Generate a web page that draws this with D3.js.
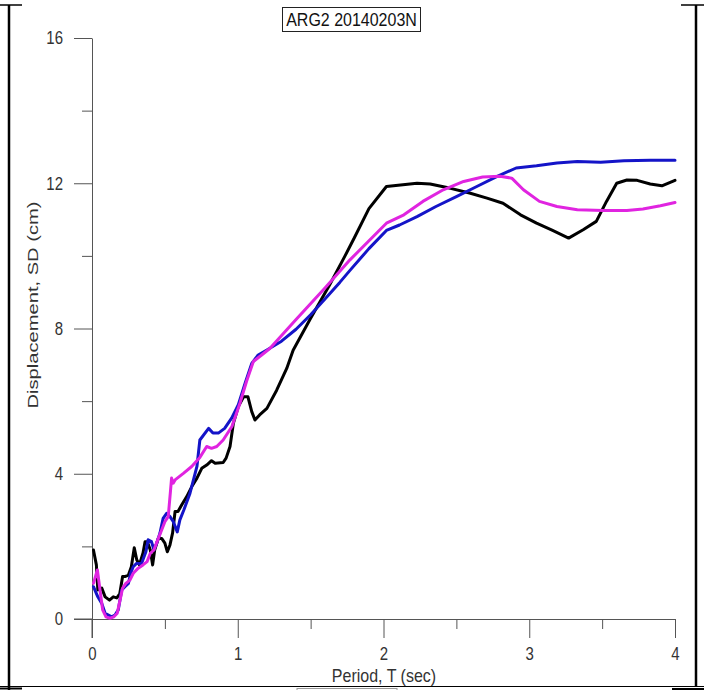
<!DOCTYPE html>
<html>
<head>
<meta charset="utf-8">
<script src="https://cdn.jsdelivr.net/npm/d3@7"></script>
<style>
  html, body { margin: 0; padding: 0; background: #fff; }
  svg { display: block; }
  .tall { transform-box: fill-box; transform-origin: center; transform: scaleY(1.2); }
</style>
</head>
<body>
<svg id="chart" width="704" height="690"></svg>
<script>
// ---- data ----
const chartTitle = "ARG2 20140203N";
const xLabel = "Period, T (sec)";
const yLabel = "Displacement, SD (cm)";
const xMajorTicks = [0, 1, 2, 3, 4];
const xMinorTicks = [0.5, 1.5, 2.5, 3.5];
const yMajorTicks = [0, 4, 8, 12, 16];
const yMinorTicks = [2, 6, 10, 14];

const blackSeries = [
  [0.01,1.9],[0.03,1.49],[0.04,0.8],[0.067,0.85],[0.09,0.61],[0.12,0.52],[0.146,0.61],[0.17,0.58],
  [0.19,0.69],[0.21,1.17],[0.226,1.17],[0.25,1.21],[0.27,1.44],[0.29,1.96],[0.307,1.63],[0.325,1.49],
  [0.35,1.82],[0.364,2.13],[0.38,2.13],[0.4,1.9],[0.416,1.49],[0.43,1.9],[0.455,2.22],[0.478,2.22],
  [0.5,2.09],[0.517,1.85],[0.535,2.04],[0.553,2.37],[0.57,2.96],[0.59,2.96],[0.615,3.14],[0.65,3.37],
  [0.684,3.64],[0.72,3.88],[0.753,4.15],[0.787,4.24],[0.82,4.36],[0.845,4.29],[0.9,4.31],[0.92,4.43],
  [0.947,4.75],[0.97,5.39],[1.004,5.85],[1.04,6.12],[1.07,6.12],[1.096,5.71],[1.118,5.48],[1.15,5.62],
  [1.2,5.8],[1.267,6.3],[1.336,6.9],[1.38,7.4],[1.5,8.28],[1.63,9.2],[1.736,10.0],[1.8,10.5],
  [1.9,11.3],[2.02,11.91],[2.23,12.0],[2.32,11.98],[2.46,11.86],[2.59,11.73],[2.71,11.59],[2.82,11.45],
  [2.94,11.13],[3.05,10.9],[3.16,10.7],[3.27,10.49],[3.37,10.72],[3.46,10.95],[3.53,11.5],[3.6,12.0],
  [3.67,12.09],[3.74,12.08],[3.83,11.98],[3.91,11.93],[4.0,12.08]
];

const blueSeries = [
  [0.01,0.89],[0.04,0.61],[0.067,0.43],[0.09,0.16],[0.112,0.11],[0.135,0.06],[0.158,0.11],[0.18,0.25],
  [0.204,0.8],[0.226,0.89],[0.25,0.98],[0.265,1.26],[0.283,1.44],[0.306,1.53],[0.34,1.53],[0.37,1.85],
  [0.385,2.18],[0.408,2.13],[0.425,1.9],[0.443,2.08],[0.466,2.36],[0.488,2.77],[0.512,2.91],[0.535,2.82],
  [0.558,2.68],[0.585,2.4],[0.603,2.73],[0.63,3.0],[0.672,3.46],[0.72,4.2],[0.74,4.93],[0.8,5.25],
  [0.83,5.12],[0.867,5.12],[0.91,5.25],[0.958,5.53],[1.004,5.9],[1.05,6.49],[1.096,7.04],[1.14,7.27],
  [1.2,7.41],[1.3,7.65],[1.4,7.98],[1.5,8.38],[1.6,8.82],[1.7,9.27],[1.77,9.6],[1.9,10.2],
  [2.02,10.7],[2.11,10.85],[2.23,11.08],[2.36,11.36],[2.5,11.63],[2.64,11.91],[2.78,12.19],[2.91,12.42],
  [3.05,12.48],[3.19,12.56],[3.33,12.6],[3.49,12.58],[3.65,12.62],[3.83,12.63],[4.0,12.63]
];

const magentaSeries = [
  [0.01,0.98],[0.037,1.35],[0.055,0.8],[0.073,0.25],[0.096,0.06],[0.123,0.02],[0.15,0.06],[0.173,0.16],
  [0.19,0.48],[0.21,0.85],[0.232,0.98],[0.26,1.07],[0.283,1.26],[0.317,1.4],[0.35,1.49],[0.378,1.58],
  [0.4,1.81],[0.425,1.9],[0.455,2.22],[0.478,2.45],[0.5,2.68],[0.523,2.82],[0.539,3.55],[0.546,3.88],
  [0.557,3.74],[0.57,3.83],[0.627,4.01],[0.684,4.2],[0.74,4.45],[0.787,4.75],[0.82,4.7],[0.856,4.75],
  [0.9,4.93],[0.96,5.3],[1.015,5.94],[1.06,6.54],[1.107,7.09],[1.164,7.27],[1.22,7.45],[1.4,8.25],
  [1.6,9.12],[1.77,9.89],[2.02,10.9],[2.14,11.13],[2.27,11.5],[2.41,11.82],[2.55,12.05],[2.68,12.17],
  [2.8,12.19],[2.88,12.14],[2.96,11.82],[3.07,11.5],[3.19,11.36],[3.33,11.27],[3.51,11.25],[3.67,11.25],
  [3.78,11.29],[3.9,11.38],[4.0,11.47]
];

const seriesList = [
  { name: "black", data: blackSeries, color: "#000000" },
  { name: "blue", data: blueSeries, color: "#1414c8" },
  { name: "magenta", data: magentaSeries, color: "#e024e0" }
];

// ---- drawing ----
const svg = d3.select("#chart");
const font = "'Liberation Sans', Arial, sans-serif";

const x = d3.scaleLinear().domain([0, 4]).range([92, 675]);
const y = d3.scaleLinear().domain([0, 16]).range([619, 38]);

// page borders (table cell look)
const border = svg.append("g").attr("stroke", "#000").attr("fill", "none");
border.append("line").attr("x1", 9).attr("x2", 9).attr("y1", 5).attr("y2", 690).attr("stroke-width", 2.5);
border.append("line").attr("x1", 0).attr("x2", 22).attr("y1", 5).attr("y2", 5).attr("stroke-width", 1.5);
border.append("line").attr("x1", 681).attr("x2", 704).attr("y1", 5).attr("y2", 5).attr("stroke-width", 1.5);
border.append("line").attr("x1", 696).attr("x2", 696).attr("y1", 5).attr("y2", 686).attr("stroke-width", 2.5);
border.append("line").attr("x1", 0).attr("x2", 704).attr("y1", 686.5).attr("y2", 686.5).attr("stroke-width", 1.2);
border.append("line").attr("x1", 0).attr("x2", 22).attr("y1", 688.5).attr("y2", 688.5).attr("stroke-width", 2);
border.append("line").attr("x1", 672).attr("x2", 704).attr("y1", 689).attr("y2", 689).attr("stroke-width", 2);
border.append("rect").attr("x", 297).attr("y", 688.5).attr("width", 100).attr("height", 10)
  .attr("stroke", "#999").attr("stroke-width", 1);

// title box
const titleG = svg.append("g");
titleG.append("rect").attr("x", 282.5).attr("y", 7.5).attr("width", 138).attr("height", 24)
  .attr("fill", "#fff").attr("stroke", "#222").attr("stroke-width", 1);
titleG.append("text").attr("class", "tall").attr("x", 351.5).attr("y", 25).attr("text-anchor", "middle")
  .attr("font-family", font).attr("font-size", 16).attr("fill", "#111").text(chartTitle);

const axisColor = "#555";
const labelColor = "#333";

function styleAxis(g) {
  g.select(".domain").attr("stroke", axisColor).attr("stroke-width", 1);
  g.selectAll(".tick line").attr("stroke", axisColor).attr("stroke-width", 1);
  g.selectAll(".tick text").attr("class", "tall").attr("fill", labelColor)
    .attr("font-family", font).attr("font-size", 15);
}

// x axis major
const xAxisG = svg.append("g").attr("transform", `translate(0,${y(0)})`)
  .call(d3.axisBottom(x).tickValues(xMajorTicks).tickSize(19).tickPadding(10).tickSizeOuter(0)
    .tickFormat(d3.format("d")));
styleAxis(xAxisG);
// x axis minor
const xMinorG = svg.append("g").attr("transform", `translate(0,${y(0)})`)
  .call(d3.axisBottom(x).tickValues(xMinorTicks).tickSize(10).tickFormat(""));
styleAxis(xMinorG);
xMinorG.select(".domain").remove();
// extend baseline to left
svg.append("line").attr("x1", 74).attr("x2", x(0)).attr("y1", y(0)).attr("y2", y(0))
  .attr("stroke", axisColor).attr("stroke-width", 1);

// y axis major
const yAxisG = svg.append("g").attr("transform", `translate(${x(0)},0)`)
  .call(d3.axisLeft(y).tickValues(yMajorTicks).tickSize(18).tickPadding(11).tickSizeOuter(0)
    .tickFormat(d3.format("d")));
styleAxis(yAxisG);
const yMinorG = svg.append("g").attr("transform", `translate(${x(0)},0)`)
  .call(d3.axisLeft(y).tickValues(yMinorTicks).tickSize(10).tickFormat(""));
styleAxis(yMinorG);
yMinorG.select(".domain").remove();
// extend y axis line down
svg.append("line").attr("x1", x(0)).attr("x2", x(0)).attr("y1", y(0)).attr("y2", y(0) + 19)
  .attr("stroke", axisColor).attr("stroke-width", 1);

// axis titles
svg.append("text").attr("class", "tall").attr("x", 384).attr("y", 680.5).attr("text-anchor", "middle")
  .attr("font-family", font).attr("font-size", 16).attr("fill", labelColor).text(xLabel);
svg.append("text").attr("transform", `translate(38,305) rotate(-90) scale(1.3,1)`).attr("text-anchor", "middle")
  .attr("font-family", font).attr("font-size", 15.5).attr("fill", labelColor).text(yLabel);

// series
const line = d3.line().x(d => x(d[0])).y(d => y(d[1])).curve(d3.curveLinear);
svg.append("g").selectAll("path").data(seriesList).join("path")
  .attr("d", d => line(d.data))
  .attr("fill", "none")
  .attr("stroke", d => d.color)
  .attr("stroke-width", 3)
  .attr("stroke-linejoin", "round")
  .attr("stroke-linecap", "round");
</script>
</body>
</html>
